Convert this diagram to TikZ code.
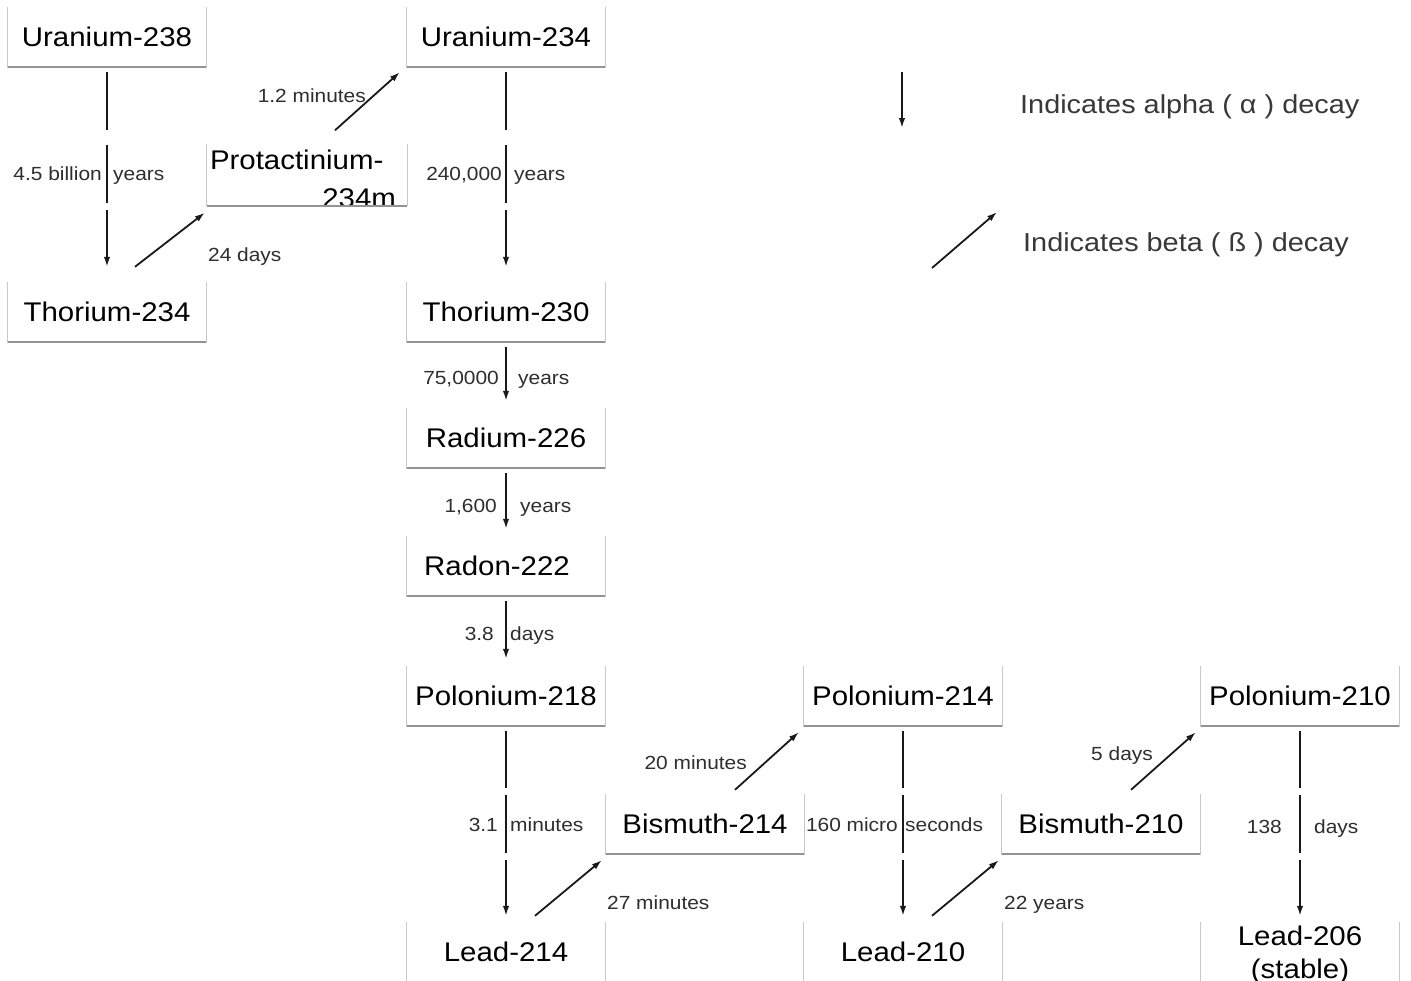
\documentclass[tikz,border=0pt]{standalone}
\usepackage{fontspec}
\setmainfont{Liberation Sans}[FakeStretch=1.09]
\newfontfamily\labfam{Liberation Sans}[FakeStretch=1.1]
\newfontfamily\legfam{Liberation Sans}[FakeStretch=1.11]
\newcommand\labfont{\labfam\fontsize{19}{22}\selectfont}
\newcommand\isofont{\fontsize{27}{33}\selectfont}
\usetikzlibrary{arrows.meta,calc}
\begin{document}
\begin{tikzpicture}[x=1pt,y=-1pt,
  iso/.style={minimum width=198pt, minimum height=60pt, inner sep=0pt, font=\isofont},
  lab/.style={inner sep=0pt, font=\labfont, text=black!82},
  seg/.style={line width=1.8pt, draw=black!90},
  arr/.style={seg, -{Latex[length=10pt,width=6.5pt]}},
  boxedge/.style={draw=black!22, line width=1pt},
  boxshade/.style={draw=black!42, line width=1.6pt},
  legend/.style={inner sep=0pt, anchor=base west, font=\legfam\fontsize{26}{30}\selectfont, text=black!78}]
\fill[white] (0,0) rectangle (1411,980);
\useasboundingbox (0,0) rectangle (1411,980);
\begin{scope}
\clip (0,0) rectangle (1411,980);
% isotope boxes
\node[iso] (u238) at (107,37) {Uranium-238};
\node[iso] (u234) at (506,37) {Uranium-234};
\node[iso, minimum width=200pt, minimum height=61pt] (pa) at (307,175) {};
\node[iso] (th234) at (107,312) {Thorium-234};
\node[iso] (th230) at (506,312) {Thorium-230};
\node[iso] (ra) at (506,438) {Radium-226};
\node[iso] (rn) at (506,566) {Radon-222\hspace*{18pt}};
\node[iso] (po218) at (506,696) {Polonium-218};
\node[iso] (po214) at (903,696) {Polonium-214};
\node[iso] (po210) at (1300,696) {Polonium-210};
\node[iso] (bi214) at (705,824) {Bismuth-214};
\node[iso] (bi210) at (1101,824) {Bismuth-210};
\node[iso] (pb214) at (506,952) {Lead-214};
\node[iso] (pb210) at (903,952) {Lead-210};
\node[iso] (pb206) at (1300,952) {};
\node[inner sep=0pt, align=center, font=\isofont] (pb206t) at ($(pb206.north)+(0,33)$) {Lead-206\\(stable)};
\begin{scope}
\clip (pa.north west) rectangle (pa.south east);
\node[inner sep=0pt, anchor=west, font=\isofont] (pat1) at ($(pa.north west)+(3,16)$) {Protactinium-};
\node[inner sep=0pt, anchor=east, font=\isofont] (pat2) at ($(pa.north east)+(-11,54)$) {234m};
\end{scope}
\foreach \n in {u238,u234,pa,th234,th230,ra,rn,po218,po214,po210,bi214,bi210,pb214,pb210,pb206}{
  \draw[boxedge] (\n.north west) -- (\n.south west) -- (\n.south east) -- (\n.north east);
  \draw[boxshade] (\n.south west) -- (\n.south east);
}
% alpha decays (long, in three parts)
\foreach \s/\t in {u238/th234,u234/th230}{
  \draw[seg] ($(\s.south)+(0,5)$) -- +(0,58);
  \draw[seg] ($(\s.south)+(0,78)$) -- +(0,58);
  \draw[arr] ($(\s.south)+(0,143)$) -- ($(\t.north)+(0,-15)$);
}
\foreach \s/\t in {po218/pb214,po214/pb210,po210/pb206}{
  \draw[seg] ($(\s.south)+(0,5)$) -- +(0,57);
  \draw[seg] ($(\s.south)+(0,69)$) -- +(0,58);
  \draw[arr] ($(\s.south)+(0,134)$) -- ($(\t.north)+(0,-6)$);
}
% alpha decays (short)
\foreach \s/\t in {th230/ra,ra/rn,rn/po218}{
  \draw[arr] ($(\s.south)+(0,5)$) -- ($(\t.north)+(0,-7)$);
}
% beta decays
\draw[arr] ($(th234.north)+(28,-15)$) -- ($(pa.south west)+(-2,7)$);
\draw[arr] ($(pa.north)+(28,-14)$) -- ($(u234.south west)+(-7,5)$);
\draw[arr] ($(pb214.north)+(29,-6)$) -- ($(bi214.south west)+(-4,6)$);
\draw[arr] ($(bi214.north)+(30,-4)$) -- ($(po214.south west)+(-5,6)$);
\draw[arr] ($(pb210.north)+(29,-6)$) -- ($(bi210.south west)+(-3,6)$);
\draw[arr] ($(bi210.north)+(30,-4)$) -- ($(po210.south west)+(-5,6)$);
% half-life labels (baselines)
\node[lab, anchor=base east] (l1) at (366,102) {1.2 minutes};
\node[lab, anchor=base west] (l2) at (208,261) {24 days};
\node[lab, anchor=base east] (l3a) at (102,180) {4.5 billion};
\node[lab, anchor=base west] (l3b) at (113,180) {years};
\node[lab, anchor=base east] (l4a) at (502,180) {240,000};
\node[lab, anchor=base west] (l4b) at (514,180) {years};
\node[lab, anchor=base east] (l5a) at (499,384) {75,0000};
\node[lab, anchor=base west] (l5b) at (518,384) {years};
\node[lab, anchor=base east] (l6a) at (497,512) {1,600};
\node[lab, anchor=base west] (l6b) at (520,512) {years};
\node[lab, anchor=base east] (l7a) at (494,640) {3.8};
\node[lab, anchor=base west] (l7b) at (510,640) {days};
\node[lab, anchor=base east] (l8a) at (498,831) {3.1};
\node[lab, anchor=base west] (l8b) at (510,831) {minutes};
\node[lab, anchor=base east] (l9) at (747,769) {20 minutes};
\node[lab, anchor=base west] (l10) at (607,909) {27 minutes};
\node[lab, anchor=base east] (l11a) at (898,831) {160 micro};
\node[lab, anchor=base west] (l11b) at (905,831) {seconds};
\node[lab, anchor=base east] (l12) at (1153,760) {5 days};
\node[lab, anchor=base west] (l13) at (1004,909) {22 years};
\node[lab, anchor=base east] (l14a) at (1282,833) {138};
\node[lab, anchor=base west] (l14b) at (1314,833) {days};
% legend
\coordinate (la1) at (902,72);
\coordinate (la2) at (902,128);
\draw[arr] (la1) -- (la2);
\node[legend] (lta) at (1020,113) {Indicates alpha ( α ) decay};
\coordinate (lb1) at (932,268);
\coordinate (lb2) at (997,212);
\draw[arr] (lb1) -- (lb2);
\node[legend] (ltb) at (1023,251) {Indicates beta ( ß ) decay};
\end{scope}
\end{tikzpicture}
\end{document}
